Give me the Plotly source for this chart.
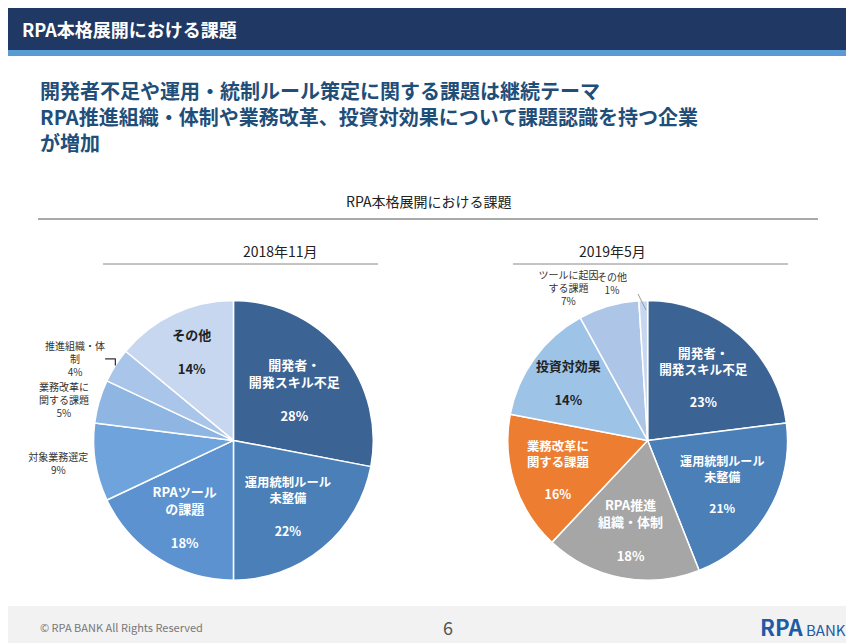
import plotly.graph_objects as go

labels_2018 = ["開発者・<br>開発スキル不足", "運用統制ルール<br>未整備", "RPAツール<br>の課題", "対象業務選定", "業務改革に<br>関する課題", "推進組織・体<br>制", "その他"]
values_2018 = [28, 22, 18, 9, 5, 4, 14]
colors_2018 = ["#3b6394", "#4a7fb8", "#5b92cf", "#6ea3dc", "#8fb5e2", "#a9c5e9", "#c7d7ef"]
pos_2018 = ["inside", "inside", "inside", "outside", "outside", "outside", "inside"]

labels_2019 = ["開発者・<br>開発スキル不足", "運用統制ルール<br>未整備", "RPA推進<br>組織・体制", "業務改革に<br>関する課題", "投資対効果", "ツールに起因<br>する課題", "その他"]
values_2019 = [23, 21, 18, 16, 14, 7, 1]
colors_2019 = ["#3b6394", "#4a7fb8", "#a6a6a6", "#ed7d31", "#9dc3e6", "#adc6e8", "#c7d7ef"]
pos_2019 = ["inside", "inside", "inside", "inside", "inside", "outside", "none"]

def txtcol(c, p):
    return ["white" if (pp == "inside" and cc not in ("#9dc3e6", "#c7d7ef")) else "#222" for cc, pp in zip(c, p)]

def tmpl(p):
    return ["<b>%{label}<br><br>%{value}%</b>" if pp == "inside" else ("%{label}<br>%{value}%" if pp == "outside" else "") for pp in p]

fig = go.Figure()
for labs, vals, cols, pos, dom in [
    (labels_2018, values_2018, colors_2018, pos_2018, [0.100, 0.428]),
    (labels_2019, values_2019, colors_2019, pos_2019, [0.585, 0.913]),
]:
    fig.add_trace(go.Pie(
        labels=labs, values=vals, sort=False, direction="clockwise", rotation=0,
        marker=dict(colors=cols, line=dict(color="white", width=1.5)),
        texttemplate=tmpl(pos), textposition=pos,
        insidetextorientation="horizontal",
        textfont=dict(size=13, color=txtcol(cols, pos), family="Noto Sans CJK JP"),
        outsidetextfont=dict(size=10, color="#333", family="Noto Sans CJK JP"),
        domain=dict(x=dom, y=[0.11, 0.545]), showlegend=False, hoverinfo="skip"))

shapes = [
    dict(type="rect", xref="paper", yref="paper", x0=0, x1=1, y0=1 - 42/643, y1=1, fillcolor="#1f3864", line_width=0),
    dict(type="rect", xref="paper", yref="paper", x0=0, x1=1, y0=1 - 48/643, y1=1 - 42/643, fillcolor="#5b9bd5", line_width=0),
    dict(type="line", xref="paper", yref="paper", x0=30/854, x1=810/854, y0=1 - 211/643, y1=1 - 211/643, line=dict(color="#555", width=1)),
    dict(type="line", xref="paper", yref="paper", x0=95/854, x1=370/854, y0=1 - 256/643, y1=1 - 256/643, line=dict(color="#888", width=1)),
    dict(type="line", xref="paper", yref="paper", x0=505/854, x1=780/854, y0=1 - 256/643, y1=1 - 256/643, line=dict(color="#888", width=1)),
    dict(type="rect", xref="paper", yref="paper", x0=0, x1=1, y0=0, y1=45/643, fillcolor="#f2f2f2", line_width=0),
    dict(type="line", xref="paper", yref="paper", x0=630/854, x1=638/854, y0=1 - 286/643, y1=1 - 302/643, line=dict(color="#999", width=1)),
]
ann = [
    dict(text="<b>RPA本格展開における課題</b>", x=12/854, y=1 - 21/643, xanchor="left", font=dict(size=18, color="white")),
    dict(text="<b>開発者不足や運用・統制ルール策定に関する課題は継続テーマ<br>RPA推進組織・体制や業務改革、投資対効果について課題認識を持つ企業<br>が増加</b>",
         x=30/854, y=1 - 66/643, xanchor="left", yanchor="top", align="left", font=dict(size=20, color="#1f4e79")),
    dict(text="RPA本格展開における課題", x=420/854, y=1 - 193/643, font=dict(size=14, color="#222")),
    dict(text="2018年11月", x=233/854, y=1 - 243/643, font=dict(size=14, color="#222")),
    dict(text="2019年5月", x=640/854, y=1 - 243/643, font=dict(size=14, color="#222")),
    dict(text=labels_2019[6] + "<br>" + str(values_2019[6]) + "%", x=621/854, y=1 - 275/643,
         font=dict(size=10, color="#333")),
    dict(text="© RPA BANK All Rights Reserved", x=30/854, y=24/643, xanchor="left", font=dict(size=11, color="#777")),
    dict(text="6", x=440/854, y=24/643, font=dict(size=18, color="#555")),
    dict(text="<b>RPA</b><span style='font-size:15px'> BANK</span>", x=840/854, y=25/643, xanchor="right", font=dict(size=22, color="#1f5aa6")),
]
for a in ann:
    a.update(xref="paper", yref="paper", showarrow=False)
    a.setdefault("yanchor", "middle")

fig.update_layout(width=854, height=643, margin=dict(l=0, r=0, t=0, b=0),
                  paper_bgcolor="white", font=dict(family="Noto Sans CJK JP"),
                  shapes=shapes, annotations=ann)
fig.write_html("out.html")
